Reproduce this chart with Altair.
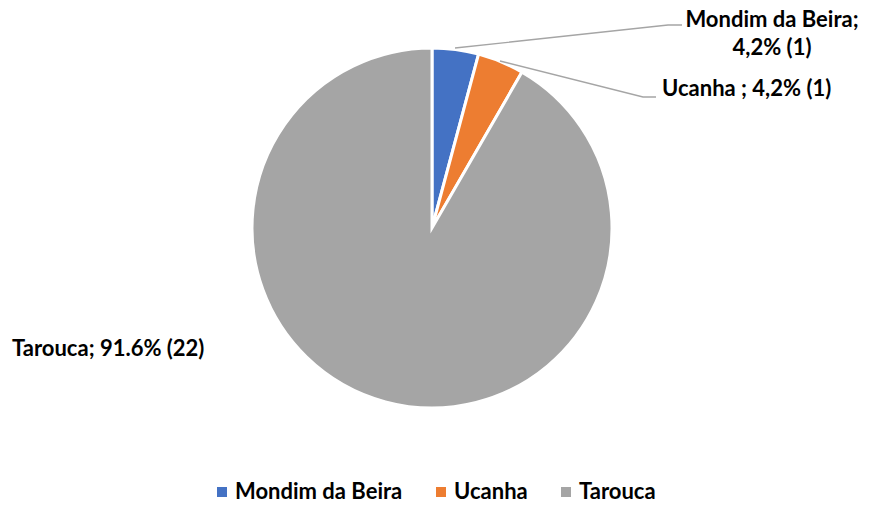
import altair as alt
import pandas as pd

# ---- data ----
categories = ["Mondim da Beira", "Ucanha", "Tarouca"]
counts = [1, 1, 22]
percents = ["4,2%", "4,2%", "91.6%"]
colors = ["#4472C4", "#ED7D31", "#A5A5A5"]

pie_df = pd.DataFrame({"cat": categories, "n": counts, "ord": [0, 1, 2]})

# ---- layout (chart pixel coordinates) ----
CX, CY, R = 424, 220, 180
FONT = "Lato"
FS = 22

label_lines = [
    {"t": "Mondim da Beira;", "x": 764, "y": 12, "a": "center"},
    {"t": f"{percents[0]} ({counts[0]})", "x": 764, "y": 40, "a": "center"},
    {"t": f"{categories[1]} ; {percents[1]} ({counts[1]})", "x": 654, "y": 81, "a": "left"},
    {"t": f"{categories[2]}; {percents[2]} ({counts[2]})", "x": 4, "y": 341, "a": "left"},
]
lab_df = pd.DataFrame(label_lines)

leader_pts = [
    {"g": "m", "o": 0, "x": 447, "y": 40},
    {"g": "m", "o": 1, "x": 660, "y": 17},
    {"g": "m", "o": 2, "x": 674, "y": 17},
    {"g": "u", "o": 0, "x": 492, "y": 53},
    {"g": "u", "o": 1, "x": 635, "y": 89},
    {"g": "u", "o": 2, "x": 648, "y": 89},
]
lead_df = pd.DataFrame(leader_pts)

pie = alt.Chart(pie_df).mark_arc(
    outerRadius=R, stroke="white", strokeWidth=3
).encode(
    theta=alt.Theta("n:Q", stack=True),
    order=alt.Order("ord:Q"),
    color=alt.Color(
        "cat:N",
        scale=alt.Scale(domain=categories, range=colors),
        sort=categories,
        legend=alt.Legend(
            title=None,
            orient="none",
            direction="horizontal",
            legendX=203,
            legendY=473,
            symbolType="square",
            symbolSize=100,
            symbolStrokeWidth=0,
            labelFont=FONT,
            labelFontSize=FS,
            labelFontWeight="bold",
            labelColor="#000000",
            labelOffset=2,
            columnPadding=27,
            padding=0,
            labelLimit=300,
        ),
    ),
    x=alt.value(CX),
    y=alt.value(CY),
)

leaders = alt.Chart(lead_df).mark_line(color="#A5A5A5", strokeWidth=1.3).encode(
    x=alt.X("x:Q", scale=None),
    y=alt.Y("y:Q", scale=None),
    detail="g:N",
    order="o:Q",
)

lab_center = alt.Chart(lab_df[lab_df.a == "center"]).mark_text(
    font=FONT, fontSize=FS, fontWeight="bold", baseline="middle", align="center", color="#000000"
).encode(x=alt.X("x:Q", scale=None), y=alt.Y("y:Q", scale=None), text="t:N")
lab_left = alt.Chart(lab_df[lab_df.a == "left"]).mark_text(
    font=FONT, fontSize=FS, fontWeight="bold", baseline="middle", align="left", color="#000000"
).encode(x=alt.X("x:Q", scale=None), y=alt.Y("y:Q", scale=None), text="t:N")

chart = alt.layer(pie, leaders, lab_center, lab_left).properties(
    width=856, height=497, padding=0, background="white",
    autosize=alt.AutoSizeParams(type="none"),
).configure_view(stroke=None)

chart.save("out.html", embed_options={"renderer": "svg", "actions": False})
